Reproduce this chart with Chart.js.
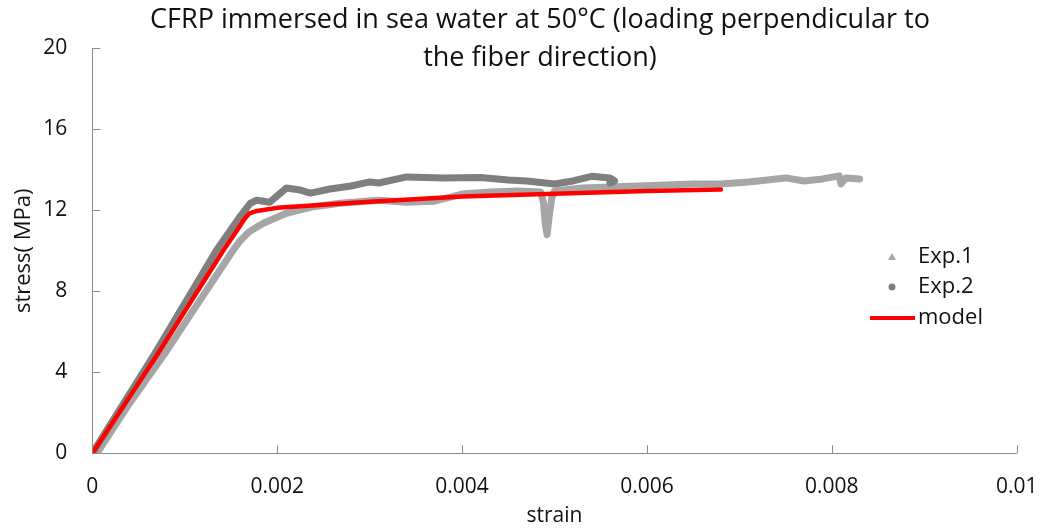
<!DOCTYPE html>
<html>
<head>
<meta charset="utf-8">
<script src="https://cdn.jsdelivr.net/npm/chart.js@4.4.1/dist/chart.umd.min.js"></script>
<style>
  html, body { margin: 0; padding: 0; background: #ffffff; }
  #wrap { width: 1047px; height: 531px; position: relative; }
</style>
</head>
<body>
<div id="wrap"><canvas id="chart"></canvas></div>
<script>
// Titles and labels
const titleLines = ['CFRP immersed in sea water at 50°C (loading perpendicular to', 'the fiber direction)'];
const seriesNames = ['Exp.1', 'Exp.2', 'model'];
const xTickValues = [0, 0.002, 0.004, 0.006, 0.008, 0.01];
const xTickLabels = ['0', '0.002', '0.004', '0.006', '0.008', '0.01'];
const yTickValues = [0, 4, 8, 12, 16, 20];
const yTickLabels = ['0', '4', '8', '12', '16', '20'];

// Exp.1 : strain / stress (MPa)
const exp1Strain = [0.00005, 0.0004, 0.000786, 0.00115, 0.00152, 0.0016, 0.0017, 0.00185, 0.0021, 0.00239,
  0.00268, 0.0031, 0.0034, 0.0037, 0.004, 0.0043, 0.0046, 0.00485, 0.00488, 0.0049,
  0.00492, 0.00494, 0.00497, 0.005, 0.0053, 0.0056, 0.0059, 0.0062, 0.0065, 0.0068,
  0.0071, 0.0075, 0.0077, 0.0079, 0.00808, 0.0081, 0.00815, 0.0083];
const exp1Stress = [0, 2.45, 4.94, 7.45, 10.0, 10.5, 10.95, 11.36, 11.85, 12.18,
  12.35, 12.5, 12.4, 12.45, 12.8, 12.9, 12.95, 12.9, 12.4, 11.3,
  10.8, 11.6, 12.6, 12.95, 13.1, 13.15, 13.2, 13.25, 13.3, 13.3,
  13.4, 13.6, 13.45, 13.55, 13.7, 13.3, 13.6, 13.55];

// Exp.2 : strain / stress (MPa)
const exp2Strain = [0, 0.000678, 0.00134, 0.0016, 0.00171, 0.00178, 0.00192, 0.0021, 0.00225, 0.00236,
  0.00257, 0.0028, 0.003, 0.0031, 0.0034, 0.0038, 0.0042, 0.0045, 0.0047, 0.005,
  0.0052, 0.0054, 0.0056, 0.00565, 0.0056];
const exp2Stress = [0, 4.94, 10.0, 11.7, 12.35, 12.5, 12.4, 13.1, 13.0, 12.85,
  13.05, 13.2, 13.4, 13.35, 13.65, 13.6, 13.62, 13.5, 13.45, 13.3,
  13.45, 13.68, 13.6, 13.45, 13.35];

// model : strain / stress (MPa)
const modelStrain = [0, 0.000714, 0.00142, 0.00155, 0.00165, 0.0017, 0.00178, 0.002, 0.003, 0.004, 0.005, 0.006, 0.0068];
const modelStress = [0, 4.94, 10.04, 10.9, 11.6, 11.85, 11.97, 12.12, 12.42, 12.68, 12.82, 12.95, 13.03];

const toPoints = (xs, ys) => xs.map((x, i) => ({ x: x, y: ys[i] }));

const FONT = "'Open Sans', 'Noto Sans', sans-serif";
const TEXT = '#111111';
const AXIS = '#8c8c8c';
const COLORS = ['#a6a6a6', '#7f7f7f', '#ff0000'];

// Tick marks pointing into the plot, title and legend
const decorPlugin = {
  id: 'decor',
  afterDraw(chart) {
    const ctx = chart.ctx;
    const xs = chart.scales.x, ys = chart.scales.y;
    const area = chart.chartArea;
    ctx.save();
    ctx.strokeStyle = AXIS;
    ctx.lineWidth = 1;
    ctx.beginPath();
    xTickValues.forEach(v => {
      const px = Math.round(xs.getPixelForValue(v)) + 0.5;
      ctx.moveTo(px, area.bottom);
      ctx.lineTo(px, area.bottom - 8);
    });
    yTickValues.forEach(v => {
      const py = Math.round(ys.getPixelForValue(v)) + 0.5;
      ctx.moveTo(area.left, py);
      ctx.lineTo(area.left + 8, py);
    });
    ctx.stroke();

    // Title
    ctx.fillStyle = TEXT;
    ctx.font = "27px " + FONT;
    ctx.textAlign = 'center';
    ctx.textBaseline = 'middle';
    ctx.fillText(titleLines[0], 540, 20);
    ctx.fillText(titleLines[1], 540, 58);

    // Legend
    const lx = 892, ly = [257, 287, 318];
    ctx.font = "22px " + FONT;
    ctx.textAlign = 'left';
    ctx.fillStyle = TEXT;
    seriesNames.forEach((n, i) => ctx.fillText(n, 918, ly[i]));
    ctx.fillStyle = COLORS[0];
    ctx.beginPath();
    ctx.moveTo(lx, ly[0] - 4);
    ctx.lineTo(lx + 4, ly[0] + 3);
    ctx.lineTo(lx - 4, ly[0] + 3);
    ctx.closePath();
    ctx.fill();
    ctx.fillStyle = COLORS[1];
    ctx.beginPath();
    ctx.arc(lx, ly[1], 3.5, 0, Math.PI * 2);
    ctx.fill();
    ctx.strokeStyle = COLORS[2];
    ctx.lineWidth = 4;
    ctx.beginPath();
    ctx.moveTo(870, ly[2]);
    ctx.lineTo(915, ly[2]);
    ctx.stroke();
    ctx.restore();
  }
};

new Chart(document.getElementById('chart'), {
  type: 'scatter',
  data: {
    datasets: [
      { label: seriesNames[0], data: toPoints(exp1Strain, exp1Stress), showLine: true, borderColor: COLORS[0],
        borderWidth: 7, pointRadius: 0, borderJoinStyle: 'round', borderCapStyle: 'round', order: 3 },
      { label: seriesNames[1], data: toPoints(exp2Strain, exp2Stress), showLine: true, borderColor: COLORS[1],
        borderWidth: 7, pointRadius: 0, borderJoinStyle: 'round', borderCapStyle: 'round', order: 2 },
      { label: seriesNames[2], data: toPoints(modelStrain, modelStress), showLine: true, borderColor: COLORS[2],
        borderWidth: 4.5, pointRadius: 0, borderJoinStyle: 'round', borderCapStyle: 'round', order: 1 }
    ]
  },
  options: {
    responsive: true,
    maintainAspectRatio: false,
    animation: false,
    layout: { padding: { top: 48.3, right: 30.3, left: 0, bottom: 0 } },
    plugins: {
      legend: { display: false },
      title: { display: false },
      tooltip: { enabled: false }
    },
    scales: {
      x: {
        type: 'linear', min: 0, max: 0.01,
        afterBuildTicks: s => { s.ticks = xTickValues.map(v => ({ value: v })); },
        afterFit: s => { s.height = 77.7; s.paddingLeft = 0; s.paddingRight = 0; },
        ticks: { callback: (v, i) => xTickLabels[i], color: TEXT, font: { family: FONT, size: 21 }, padding: 21, maxRotation: 0 },
        grid: { display: false, drawTicks: false },
        border: { display: true, color: AXIS, width: 1 },
        title: { display: true, text: 'strain', color: TEXT, font: { family: FONT, size: 21 }, padding: { top: 0, bottom: 2 } }
      },
      y: {
        type: 'linear', min: 0, max: 20,
        afterBuildTicks: s => { s.ticks = yTickValues.map(v => ({ value: v })); },
        afterFit: s => { s.width = 92.3; s.paddingTop = 0; s.paddingBottom = 0; },
        ticks: { callback: (v, i) => yTickLabels[i], color: TEXT, font: { family: FONT, size: 21 }, padding: 25 },
        grid: { display: false, drawTicks: false },
        border: { display: true, color: AXIS, width: 1 },
        title: { display: true, text: 'stress( MPa)', color: TEXT, font: { family: FONT, size: 22 }, padding: { top: 11, bottom: 0 } }
      }
    }
  },
  plugins: [decorPlugin]
});
</script>
</body>
</html>
